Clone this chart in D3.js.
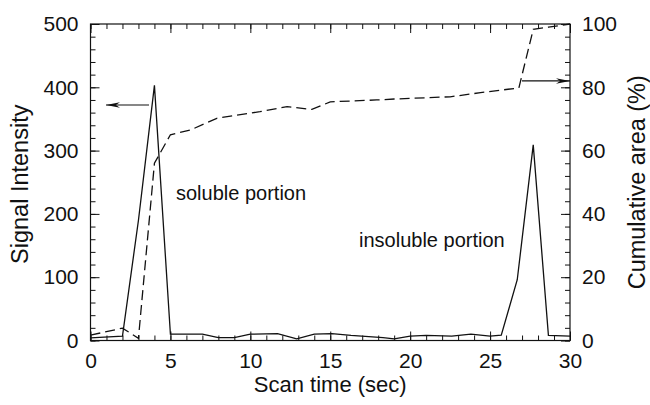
<!DOCTYPE html>
<html><head><meta charset="utf-8">
<script src="https://cdn.jsdelivr.net/npm/d3@7"></script>
<style>
body{margin:0;background:#fff;}
svg{display:block;}
text{font-family:"Liberation Sans",Arial,Helvetica,sans-serif;fill:#111;}
</style></head>
<body>
<svg id="chart" width="650" height="405"></svg>
<script>
// ---- data ----
const sigTime = [0, 2, 3, 4, 5, 7, 8, 9, 10, 11.7, 12.9, 14, 15.1, 16.3, 18.3, 19, 20, 21, 22.6, 23.8, 25, 25.7, 26.7, 27.7, 28.65, 30];
const sigVal  = [4, 7, 190, 403, 10, 10, 4.5, 4.5, 10, 11, 2.5, 10, 11, 8, 4.5, 2.5, 7, 8, 7, 10, 7, 8.5, 96, 309, 8, 7];
const cumTime = [0, 2, 3, 4, 5, 6.25, 7.9, 10.6, 12.3, 13.85, 15, 17.9, 19, 22.5, 24.4, 26.8, 27.7, 28.65, 30];
const cumVal  = [1.7, 3.9, 0.7, 56, 65, 66.5, 70.2, 72.3, 73.9, 73, 75.4, 76, 76.3, 77, 78.3, 79.8, 98.3, 99, 100];
const xTicks = [0, 5, 10, 15, 20, 25, 30];
const yLeftTicks = [0, 100, 200, 300, 400, 500];
const yRightTicks = [0, 20, 40, 60, 80, 100];
const labels = {x: "Scan time (sec)", yl: "Signal Intensity", yr: "Cumulative area (%)",
  soluble: "soluble portion", insoluble: "insoluble portion"};

const svg = d3.select("#chart");
const L = 90.5, R = 570, T = 24, B = 340.5;
const x = d3.scaleLinear().domain([0, 30]).range([L, R]);
const yl = d3.scaleLinear().domain([0, 500]).range([B, T]);
const yr = d3.scaleLinear().domain([0, 100]).range([B, T]);

const sig = sigTime.map((t, i) => [t, sigVal[i]]);
const cum = cumTime.map((t, i) => [t, cumVal[i]]);

// data lines
svg.append("path").attr("d", d3.line().x(d => x(d[0])).y(d => yl(d[1]))(sig))
  .attr("fill", "none").attr("stroke", "#111").attr("stroke-width", 1.3).attr("stroke-linejoin", "miter");
svg.append("path").attr("d", d3.line().x(d => x(d[0])).y(d => yr(d[1]))(cum))
  .attr("fill", "none").attr("stroke", "#111").attr("stroke-width", 1.3).attr("stroke-dasharray", "10,5");

// axes
const fs = 21;
function styleAxis(g) {
  g.select(".domain").remove();
  g.selectAll("line").attr("stroke", "#111").attr("stroke-width", 1);
  g.selectAll("text").attr("font-size", fs).attr("fill", "#111");
}
const xMinor = d3.range(0, 31, 1);
const yMinorL = d3.range(0, 501, 20);
const yMinorR = d3.range(0, 101, 4);

// bottom
svg.append("g").attr("transform", `translate(0,${B})`)
  .call(d3.axisBottom(x).tickValues(xMinor).tickSize(-5).tickFormat(""))
  .call(styleAxis);
svg.append("g").attr("transform", `translate(0,${B})`)
  .call(d3.axisBottom(x).tickValues(xTicks).tickSizeInner(-9).tickSizeOuter(0).tickFormat(d3.format("d")))
  .call(styleAxis)
  .selectAll("text").attr("dy", "0.71em").attr("y", 13);
// top
svg.append("g").attr("transform", `translate(0,${T})`)
  .call(d3.axisTop(x).tickValues(xMinor).tickSize(-5).tickFormat(""))
  .call(styleAxis);
svg.append("g").attr("transform", `translate(0,${T})`)
  .call(d3.axisTop(x).tickValues(xTicks).tickSize(-9).tickFormat(""))
  .call(styleAxis);
// left
svg.append("g").attr("transform", `translate(${L},0)`)
  .call(d3.axisLeft(yl).tickValues(yMinorL).tickSize(-5).tickFormat(""))
  .call(styleAxis);
svg.append("g").attr("transform", `translate(${L},0)`)
  .call(d3.axisLeft(yl).tickValues(yLeftTicks).tickSize(-9).tickPadding(0).tickFormat(d3.format("d")))
  .call(styleAxis)
  .selectAll("text").attr("x", -12);
// right
svg.append("g").attr("transform", `translate(${R},0)`)
  .call(d3.axisRight(yr).tickValues(yMinorR).tickSize(-5).tickFormat(""))
  .call(styleAxis);
svg.append("g").attr("transform", `translate(${R},0)`)
  .call(d3.axisRight(yr).tickValues(yRightTicks).tickSize(-9).tickPadding(0).tickFormat(d3.format("d")))
  .call(styleAxis)
  .selectAll("text").attr("x", 12);

// frame
svg.append("rect").attr("x", L).attr("y", T).attr("width", R - L).attr("height", B - T)
  .attr("fill", "none").attr("stroke", "#111").attr("stroke-width", 1.2);

// axis titles
svg.append("text").attr("x", (L + R) / 2).attr("y", 392).attr("text-anchor", "middle")
  .attr("font-size", 22).text(labels.x);
svg.append("text").attr("transform", `translate(28,${(T + B) / 2 + 2}) rotate(-90)`).attr("text-anchor", "middle")
  .attr("font-size", 23.5).text(labels.yl);
svg.append("text").attr("transform", `translate(645,${(T + B) / 2}) rotate(-90)`).attr("text-anchor", "middle")
  .attr("font-size", 23.5).text(labels.yr);

// annotations
svg.append("text").attr("x", 176).attr("y", 200).attr("font-size", 20).text(labels.soluble);
svg.append("text").attr("x", 359).attr("y", 247).attr("font-size", 20).text(labels.insoluble);

// arrows
function arrow(x1, x2, y) {
  svg.append("line").attr("x1", x1).attr("x2", x2).attr("y1", y).attr("y2", y)
    .attr("stroke", "#111").attr("stroke-width", 1.2);
  const dir = x2 > x1 ? 1 : -1;
  const hl = 14;
  svg.append("path")
    .attr("d", `M${x2},${y} L${x2 - dir * hl},${y - 2.8} L${x2 - dir * hl * 0.7},${y} L${x2 - dir * hl},${y + 2.8} Z`)
    .attr("fill", "#111");
}
arrow(149, 106, yl(372));
arrow(522, R, yr(82));
</script>
</body></html>
